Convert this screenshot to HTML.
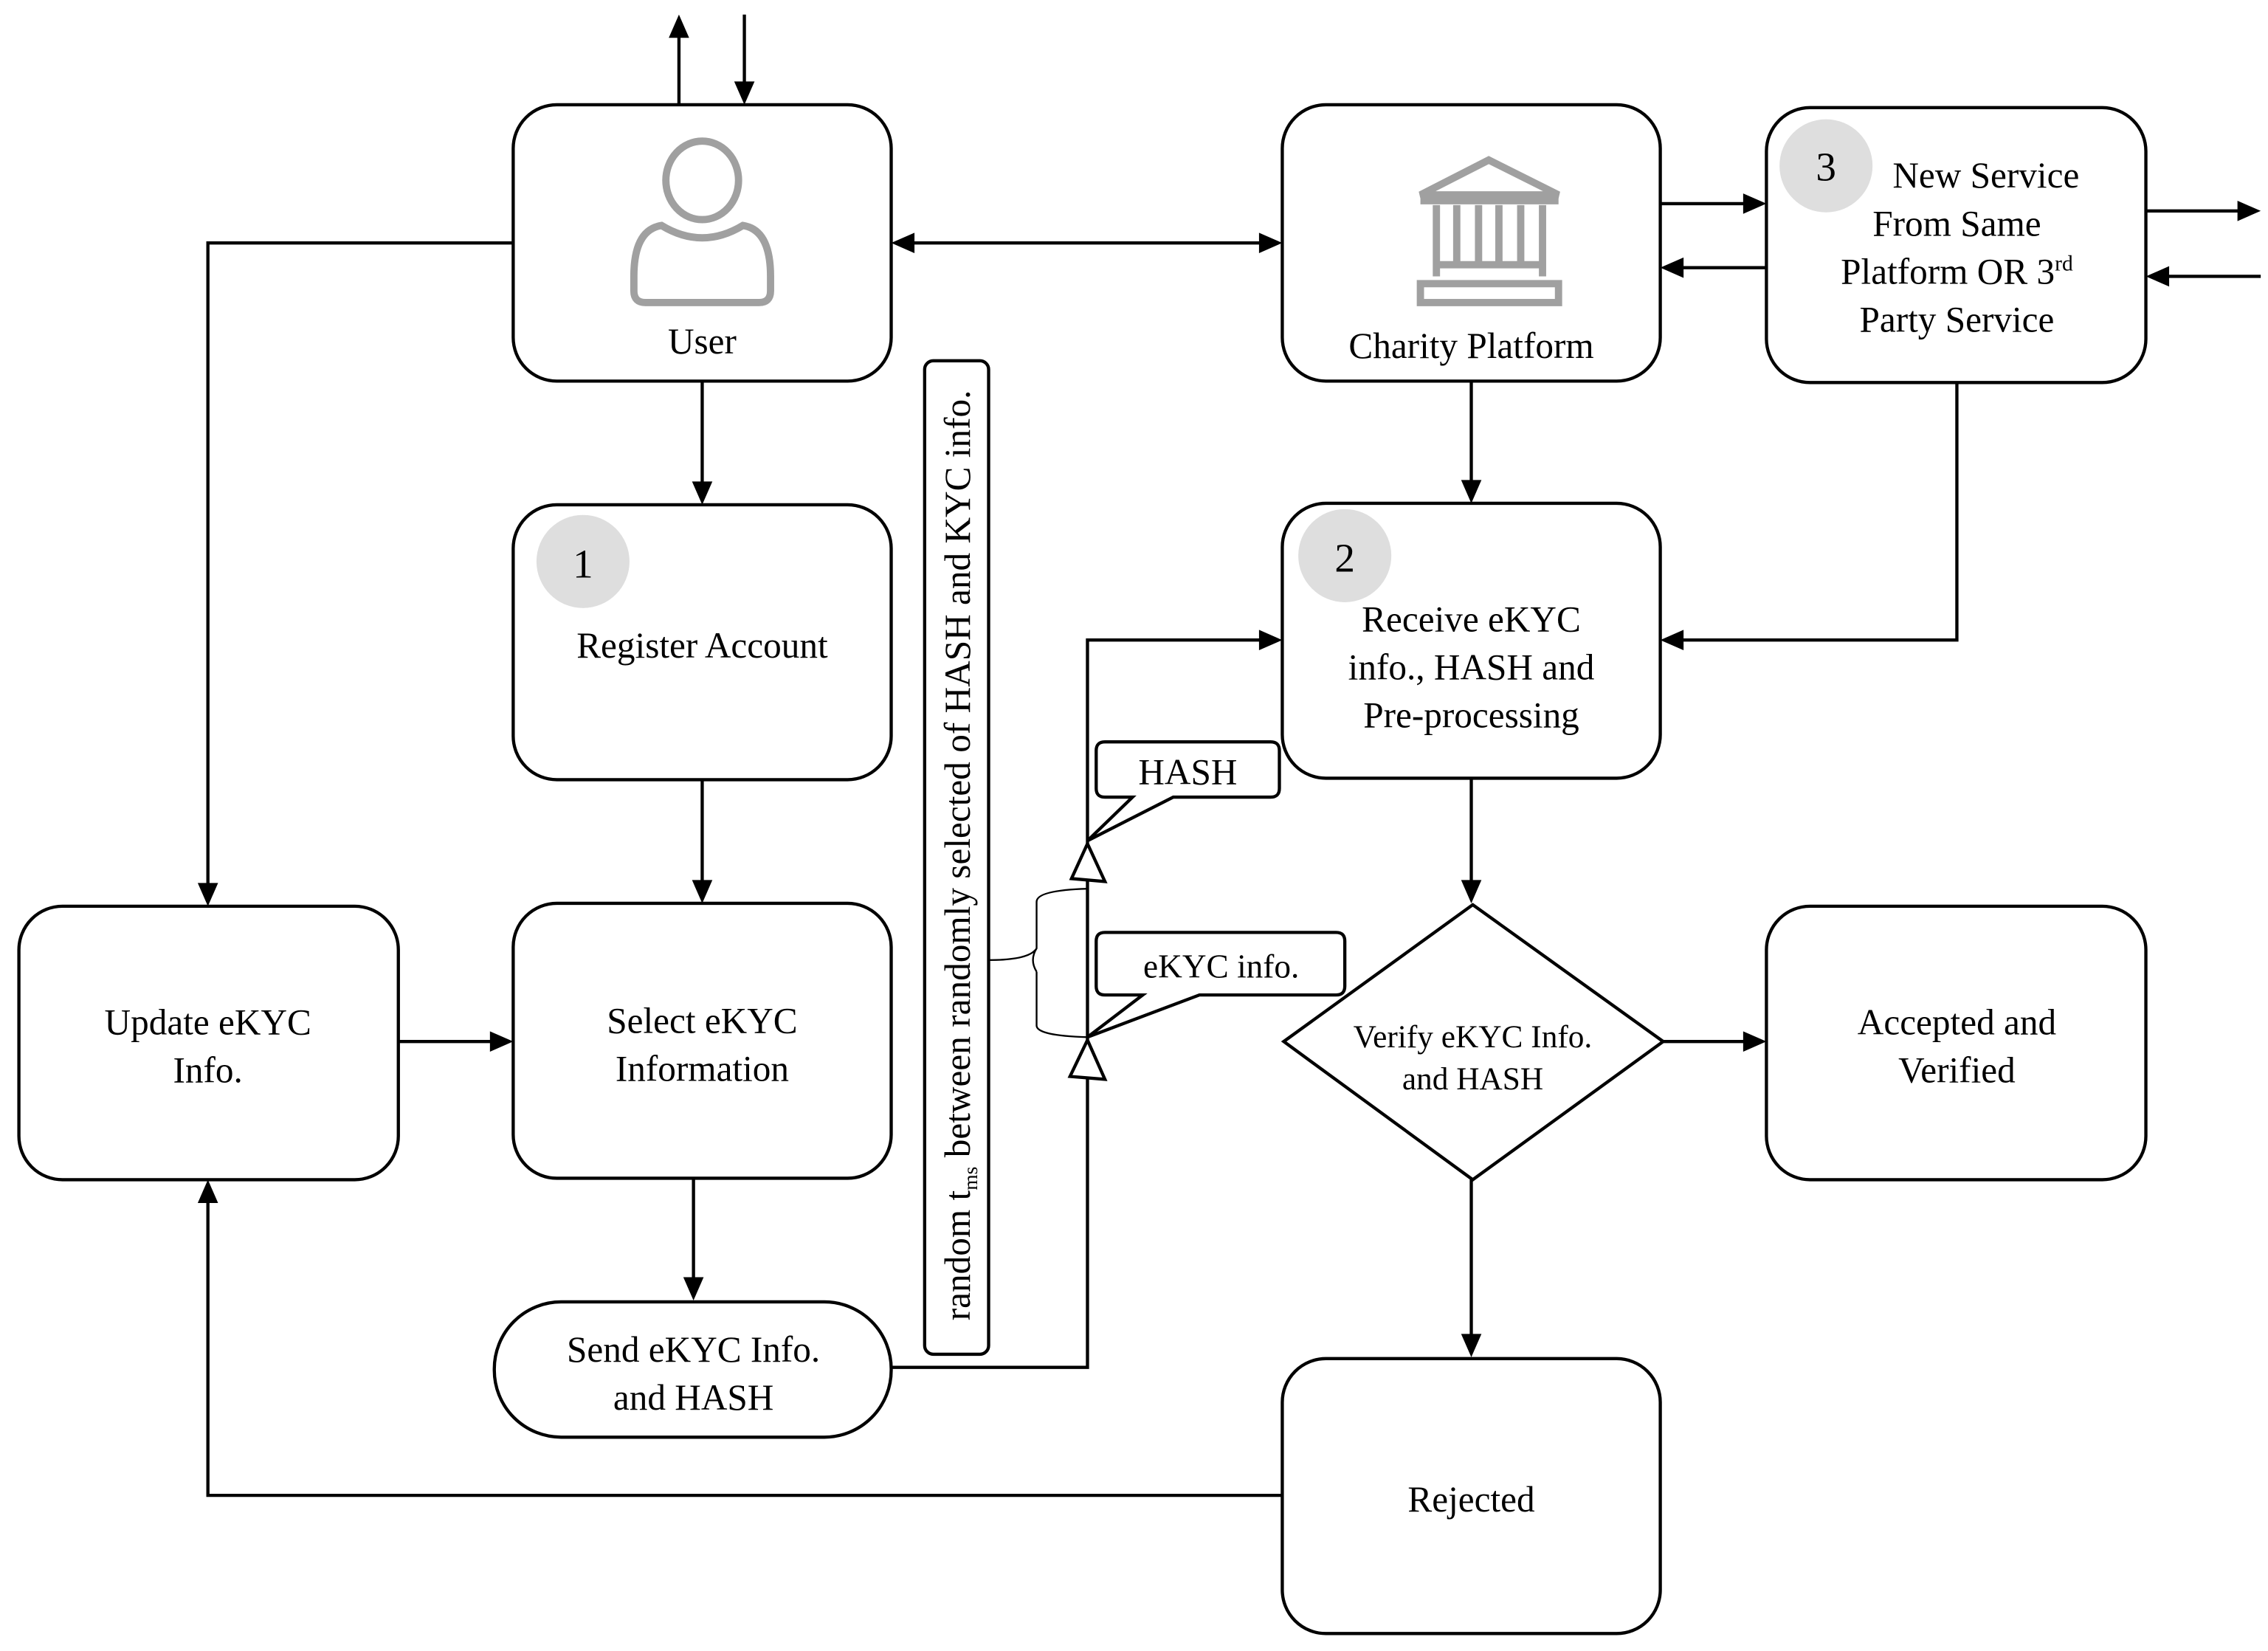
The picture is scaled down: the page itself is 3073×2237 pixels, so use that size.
<!DOCTYPE html>
<html><head><meta charset="utf-8"><style>
html,body{margin:0;padding:0;background:#fff}
svg{display:block}
text{font-family:"Liberation Serif",serif;fill:#000}
</style></head><body>
<svg width="3073" height="2237" viewBox="0 0 1560 1135" preserveAspectRatio="none" xmlns="http://www.w3.org/2000/svg">
<g fill="none" stroke="#000" stroke-width="2.2">
<rect x="353" y="72" width="260" height="190" rx="30"/>
<rect x="882" y="72" width="260" height="190" rx="30"/>
<rect x="1215" y="74" width="261" height="189" rx="30"/>
<rect x="353" y="347" width="260" height="189" rx="30"/>
<rect x="882" y="346" width="260" height="189" rx="30"/>
<rect x="353" y="621" width="260" height="189" rx="30"/>
<rect x="13" y="623" width="261" height="188" rx="30"/>
<rect x="1215" y="623" width="261" height="188" rx="30"/>
<rect x="882" y="934" width="260" height="189" rx="30"/>
<rect x="340" y="895" width="273" height="93" rx="46"/>
<rect x="636" y="248" width="44" height="683" rx="6"/>
<polygon points="1013,622 1144,716 1013,811 883,716"/>
<polyline points="467,72 467,22"/>
<polyline points="512,10 512,60"/>
<polyline points="626,167 870,167"/>
<polyline points="1142,140 1203,140"/>
<polyline points="1215,184 1155,184"/>
<polyline points="1476,145 1543,145"/>
<polyline points="1555,190 1488,190"/>
<polyline points="1346,263 1346,440 1155,440"/>
<polyline points="1012,262 1012,334"/>
<polyline points="483,262 483,334"/>
<polyline points="483,536 483,609"/>
<polyline points="274,716 341,716"/>
<polyline points="353,167 143,167 143,611"/>
<polyline points="477,810 477,882"/>
<polyline points="613,940 748,940 748,440 870,440"/>
<polyline points="1012,535 1012,609"/>
<polyline points="1144,716 1203,716"/>
<polyline points="1012,811 1012,921"/>
<polyline points="882,1028 143,1028 143,824"/>
<path d="M760,510 H874 Q880,510 880,516 V542 Q880,548 874,548 H807 L748,578 L779,548 H760 Q754,548 754,542 V516 Q754,510 760,510 Z"/>
<path d="M760,641 H919 Q925,641 925,647 V678 Q925,684 919,684 H825 L748,713 L786,684 H760 Q754,684 754,678 V647 Q754,641 760,641 Z"/>
<polygon points="748,580 737,604 760,606" fill="#fff"/>
<polygon points="748,715 736,740 760,742" fill="#fff"/>
</g>
<path d="M680,660 Q708,660 713,652 V620 Q713,612 748,611 M713,668 V705 Q713,712 748,713 M713,652 Q708,660 713,668" fill="none" stroke="#000" stroke-width="1.2"/>
<g fill="#000">
<polygon points="467,10 460,26 474,26"/>
<polygon points="512,72 505,56 519,56"/>
<polygon points="613,167 629,160 629,174"/>
<polygon points="882,167 866,160 866,174"/>
<polygon points="1215,140 1199,133 1199,147"/>
<polygon points="1142,184 1158,177 1158,191"/>
<polygon points="1555,145 1539,138 1539,152"/>
<polygon points="1476,190 1492,183 1492,197"/>
<polygon points="1142,440 1158,433 1158,447"/>
<polygon points="1012,346 1005,330 1019,330"/>
<polygon points="483,347 476,331 490,331"/>
<polygon points="483,621 476,605 490,605"/>
<polygon points="353,716 337,709 337,723"/>
<polygon points="143,623 136,607 150,607"/>
<polygon points="477,894 470,878 484,878"/>
<polygon points="882,440 866,433 866,447"/>
<polygon points="1012,621 1005,605 1019,605"/>
<polygon points="1215,716 1199,709 1199,723"/>
<polygon points="1012,933 1005,917 1019,917"/>
<polygon points="143,811 136,827 150,827"/>
</g>
<g fill="#dedede">
<circle cx="401" cy="386" r="32"/>
<circle cx="925" cy="382" r="32"/>
<circle cx="1256" cy="114" r="32"/>
</g>
<g fill="none" stroke="#a0a0a0" stroke-width="5">
<ellipse cx="483" cy="124" rx="25" ry="27"/>
<path d="M455,155 Q483,172 511,155 Q530,158 530,190 V200 Q530,208 522,208 H444 Q436,208 436,200 V190 Q436,158 455,155 Z"/>
</g>
<g fill="none" stroke="#a0a0a0" stroke-width="5">
<path d="M977,134 L1024,110 L1072,134 Z"/>
<line x1="977" y1="138" x2="1072" y2="138" />
<line x1="988" y1="141" x2="988" y2="190"/>
<line x1="1002" y1="141" x2="1002" y2="180"/>
<line x1="1017" y1="141" x2="1017" y2="180"/>
<line x1="1031" y1="141" x2="1031" y2="180"/>
<line x1="1046" y1="141" x2="1046" y2="180"/>
<line x1="1061" y1="141" x2="1061" y2="190"/>
<line x1="988" y1="182" x2="1061" y2="182"/>
<rect x="977" y="195" width="95" height="13"/>
</g>
<g font-size="25" text-anchor="middle">
<text x="483" y="243">User</text>
<text x="1012" y="246">Charity Platform</text>
<text x="1256" y="124" font-size="28">3</text>
<text x="1366" y="129">New Service</text>
<text x="1346" y="162">From Same</text>
<text x="1346" y="195">Platform OR 3<tspan font-size="15" dy="-9">rd</tspan></text>
<text x="1346" y="228">Party Service</text>
<text x="401" y="397" font-size="28">1</text>
<text x="483" y="452">Register Account</text>
<text x="925" y="393" font-size="28">2</text>
<text x="1012" y="434">Receive eKYC</text>
<text x="1012" y="467">info., HASH and</text>
<text x="1012" y="500">Pre-processing</text>
<text x="483" y="710">Select eKYC</text>
<text x="483" y="743">Information</text>
<text x="143" y="711">Update eKYC</text>
<text x="143" y="744">Info.</text>
<text x="477" y="936">Send eKYC Info.</text>
<text x="477" y="969">and HASH</text>
<text x="817" y="539">HASH</text>
<text x="840" y="672" font-size="23">eKYC info.</text>
<text x="1013" y="720" font-size="22">Verify eKYC Info.</text>
<text x="1013" y="749" font-size="22">and HASH</text>
<text x="1346" y="711">Accepted and</text>
<text x="1346" y="744">Verified</text>
<text x="1012" y="1039">Rejected</text>
<text transform="translate(667,588) rotate(-90)" font-size="25">random t<tspan font-size="14" dy="5">ms</tspan><tspan dy="-5"> between randomly selected of HASH and KYC info.</tspan></text>
</g>
</svg>
</body></html>
